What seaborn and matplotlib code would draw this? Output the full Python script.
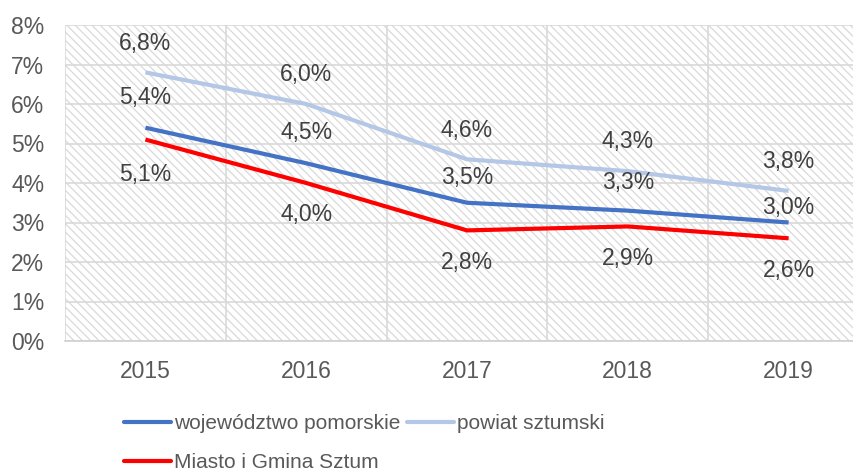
import numpy as np
import pandas as pd
import matplotlib
matplotlib.use("Agg")
import matplotlib.pyplot as plt
from matplotlib.patches import Rectangle
from matplotlib.lines import Line2D
import seaborn as sns

years = ["2015", "2016", "2017", "2018", "2019"]
woj = [5.4, 4.5, 3.5, 3.3, 3.0]
powiat = [6.8, 6.0, 4.6, 4.3, 3.8]
miasto = [5.1, 4.0, 2.8, 2.9, 2.6]
series_names = ["województwo pomorskie", "powiat sztumski", "Miasto i Gmina Sztum"]
yticks = [0, 1, 2, 3, 4, 5, 6, 7, 8]

sns.set_theme(style="white")
plt.rcParams['font.family'] = ['Liberation Sans', 'DejaVu Sans']
plt.rcParams['hatch.linewidth'] = 0.9

colors = {"województwo pomorskie": "#4472C4",
          "powiat sztumski": "#B4C7E7",
          "Miasto i Gmina Sztum": "#FF0000"}

rows = []
for name, vals in zip(series_names, [woj, powiat, miasto]):
    for i, (y, v) in enumerate(zip(years, vals)):
        rows.append({"x": i, "year": y, "value": v, "series": name})
df = pd.DataFrame(rows)

fig = plt.figure(figsize=(8.54, 4.72), dpi=100)
W, H = 854, 472
left, right, top, bottom = 65, 869, 25, 341
ax = fig.add_axes([left / W, 1 - bottom / H, (right - left) / W, (bottom - top) / H])

# hatched background
BS = chr(92)
bg = Rectangle((0, 0), 1, 1, transform=ax.transAxes, facecolor="white",
               edgecolor="#d9d9d9", hatch=BS * 4, lw=0, zorder=0.1)
ax.add_patch(bg)

sns.lineplot(data=df, x="x", y="value", hue="series", palette=colors,
             hue_order=series_names, lw=3, ax=ax, legend=False, zorder=3,
             solid_capstyle="butt")

ax.set_xlim(-0.5, 4.5)
ax.set_ylim(0, 8)
ax.set_xticks(range(len(years)))
ax.set_xticklabels(years)
ax.set_xticks(np.arange(-0.5, 5.0, 0.5), minor=True)
ax.set_yticks(yticks)
ax.set_yticklabels([f"{t}%" for t in yticks])
ax.set_axisbelow(True)
ax.grid(False)
ax.grid(True, axis="y", which="major", color="#d9d9d9", lw=1.2, zorder=0.5)
ax.grid(True, axis="x", which="minor", color="#d9d9d9", lw=1.2, zorder=0.5)
ax.tick_params(axis="both", which="both", length=0)
ax.tick_params(axis="y", pad=15, labelsize=16.5, labelcolor="#595959")
ax.tick_params(axis="x", pad=14, labelsize=16.5, labelcolor="#595959")
for s in ["top", "right", "left"]:
    ax.spines[s].set_visible(False)
ax.spines["bottom"].set_color("#d0d0d0")
ax.spines["bottom"].set_linewidth(1.2)
ax.set_xlabel("")
ax.set_ylabel("")

def fmt(v):
    return f"{v:.1f}%".replace(".", ",")

label_cfg = [(woj, 22, [0, 0, -4, -2, -11]),
             (powiat, 21, [0, 0, 0, 0, 0]),
             (miasto, -23, [-2, 0, 0, 0, 0])]
for vals, off, nudges in label_cfg:
    for i, v in enumerate(vals):
        ax.annotate(fmt(v), (i, v), xytext=(0, off + nudges[i]), textcoords="offset points",
                    ha="center", va="center", fontsize=16.5, color="#404040", zorder=4)

# legend: column-wise fill -> woj & Miasto in first column, powiat in second
legend_order = [series_names[0], series_names[2], series_names[1]]
handles = [Line2D([0], [0], color=colors[n], lw=3) for n in legend_order]
fig.legend(handles, legend_order, loc="upper left", bbox_to_anchor=(124 / W, 1 - 414 / H),
           ncol=2, frameon=False, fontsize=15, handlelength=2.25, handletextpad=0.15,
           columnspacing=0.3, labelspacing=0.95, borderaxespad=0, borderpad=0,
           labelcolor="#595959")

fig.savefig("out.png", dpi=100)
